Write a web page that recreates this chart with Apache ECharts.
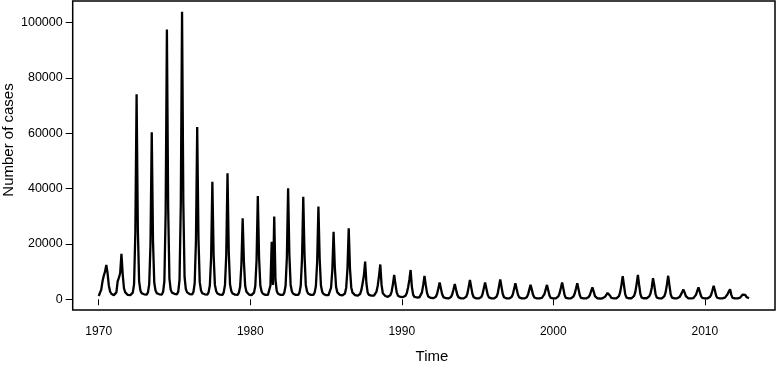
<!DOCTYPE html>
<html>
<head>
<meta charset="utf-8">
<script src="https://cdn.jsdelivr.net/npm/echarts@6/dist/echarts.min.js"></script>
<style>
  html, body { margin: 0; padding: 0; background: #fff; }
  #chart { width: 777px; height: 365px; }
</style>
</head>
<body>
<div id="chart"></div>
<script>
// monthly case counts, Jan 1970 .. Dec 2012 (one row per year)
const START_YEAR = 1970;
const cases = [
  1200, 1800, 3500, 6500, 8500, 10000, 12400, 9500, 5000, 2800, 2000, 1600,
  1500, 1400, 2500, 6500, 7800, 9500, 16400, 9000, 4000, 2500, 1900, 1600,
  1700, 1500, 1600, 2400, 5500, 24000, 74100, 25000, 6500, 3200, 2200, 1900,
  1800, 1600, 1700, 2500, 5500, 20000, 60400, 21000, 6000, 3200, 2200, 1900,
  1800, 1600, 1700, 2700, 6500, 31000, 97500, 33000, 7500, 3500, 2400, 2000,
  2000, 1700, 1800, 2800, 7000, 34000, 104000, 35000, 8000, 3700, 2500, 2100,
  1900, 1700, 1800, 2600, 5800, 21000, 62300, 22000, 6200, 3200, 2200, 1900,
  1800, 1600, 1700, 2500, 5000, 15000, 42500, 16000, 5300, 3000, 2100, 1800,
  1700, 1500, 1600, 2500, 5200, 16000, 45600, 17000, 5400, 3000, 2100, 1800,
  1700, 1500, 1600, 2400, 4600, 12500, 29300, 13500, 4800, 2700, 2000, 1700,
  1600, 1500, 1600, 2400, 4800, 14000, 37300, 15000, 5000, 2800, 2000, 1700,
  1600, 1500, 1600, 2300, 5000, 20800, 5200, 29900, 7000, 3000, 2000, 1700,
  1600, 1500, 1600, 2400, 5000, 15000, 40100, 16000, 5200, 2800, 2000, 1700,
  1600, 1500, 1600, 2400, 5000, 14500, 37100, 16000, 5200, 2800, 2000, 1700,
  1600, 1500, 1600, 2400, 4800, 13500, 33500, 14500, 5000, 2700, 1900, 1600,
  1500, 1400, 1500, 2200, 4200, 10500, 24400, 11500, 4400, 2500, 1800, 1600,
  1500, 1400, 1500, 2100, 4200, 11000, 25700, 11000, 4300, 2400, 1800, 1500,
  1400, 1300, 1400, 1900, 3300, 5800, 8500, 13600, 5800, 2400, 1600, 1400,
  1300, 1200, 1300, 1700, 2800, 5000, 8500, 12600, 5200, 2200, 1500, 1200,
  1000, 900, 1000, 1500, 2800, 5500, 8800, 5500, 2500, 1300, 950, 850,
  850, 800, 900, 1300, 2300, 4300, 7000, 10600, 4600, 1700, 900, 700,
  650, 600, 700, 1100, 2500, 5200, 8500, 5200, 2300, 1000, 600, 500,
  450, 400, 500, 900, 2000, 4000, 6100, 3900, 1800, 800, 450, 400,
  350, 320, 400, 800, 1800, 3600, 5500, 3500, 1600, 700, 400, 350,
  350, 330, 400, 900, 2100, 4500, 7000, 4400, 1900, 750, 400, 350,
  330, 300, 380, 800, 1900, 4000, 6100, 3900, 1700, 700, 400, 330,
  330, 300, 400, 900, 2100, 4600, 7200, 4500, 1900, 750, 400, 330,
  320, 300, 380, 800, 1800, 3800, 5800, 3700, 1700, 700, 380, 320,
  320, 300, 360, 750, 1700, 3500, 5200, 3500, 1600, 650, 360, 320,
  320, 300, 340, 500, 950, 1900, 3600, 5200, 3300, 1400, 500, 330,
  320, 300, 340, 530, 1050, 2200, 4100, 6100, 3800, 1500, 500, 330,
  320, 300, 340, 520, 1000, 2100, 3900, 5800, 3600, 1500, 500, 330,
  300, 280, 320, 460, 800, 1600, 3000, 4300, 2800, 1150, 430, 300,
  300, 280, 300, 380, 560, 900, 1500, 2300, 2700, 1300, 480, 320,
  330, 320, 360, 550, 1150, 2600, 5300, 8400, 5000, 1800, 600, 380,
  370, 340, 380, 570, 1200, 2700, 5500, 8800, 5200, 1900, 600, 390,
  370, 340, 370, 530, 1050, 2100, 4200, 7600, 5000, 1900, 600, 380,
  360, 330, 370, 550, 1150, 2600, 5300, 8500, 5000, 1800, 600, 370,
  340, 320, 350, 480, 800, 1500, 2500, 3600, 2500, 1150, 480, 330,
  320, 300, 330, 460, 800, 1600, 3000, 4300, 2800, 1250, 480, 330,
  320, 300, 330, 450, 800, 1600, 3200, 4900, 3200, 1250, 480, 330,
  320, 300, 320, 400, 600, 1000, 1800, 2800, 3600, 1600, 520, 320,
  300, 280, 300, 400, 600, 1000, 1700, 2400, 1600, 850, 500, 400
];

const xTicks = [1970, 1980, 1990, 2000, 2010];
const yTicks = [0, 20000, 40000, 60000, 80000, 100000];

const seriesData = cases.map((v, i) => [START_YEAR + i / 12, v]);

const FONT = "Liberation Sans, Arial, Helvetica, sans-serif";

const chart = echarts.init(document.getElementById("chart"), null, { renderer: "canvas" });
chart.setOption({
  animation: false,
  backgroundColor: "#fff",
  grid: {
    left: 72.7, top: 1, width: 702.3, height: 309,
    show: true, borderColor: "#000", borderWidth: 1.5, backgroundColor: "transparent"
  },
  xAxis: {
    type: "value",
    min: 1968.283,
    max: 2014.633,
    axisLine: { show: false },
    splitLine: { show: false },
    axisTick: {
      show: true, length: 6, customValues: xTicks,
      lineStyle: { color: "#000", width: 1 }
    },
    axisLabel: {
      customValues: xTicks, margin: 16,
      color: "#000", fontSize: 12, fontFamily: FONT,
      formatter: (v) => String(v)
    }
  },
  yAxis: {
    type: "value",
    min: -3870,
    max: 107850,
    axisLine: { show: false },
    splitLine: { show: false },
    axisTick: {
      show: true, length: 7, customValues: yTicks,
      lineStyle: { color: "#000", width: 1 }
    },
    axisLabel: {
      customValues: yTicks, margin: 10,
      color: "#000", fontSize: 12.5, fontFamily: FONT,
      formatter: (v) => String(v)
    }
  },
  series: [{
    type: "line",
    data: seriesData,
    showSymbol: false,
    symbol: "none",
    lineStyle: { color: "#000", width: 2.3 },
    clip: true
  }],
  graphic: [
    {
      type: "text",
      x: 9, y: 140, rotation: Math.PI / 2,
      style: {
        text: "Number of cases", fill: "#000", font: "15px " + FONT,
        textAlign: "center", textVerticalAlign: "middle"
      }
    },
    {
      type: "text",
      x: 432, y: 357,
      style: {
        text: "Time", fill: "#000", font: "15px " + FONT,
        textAlign: "center", textVerticalAlign: "middle"
      }
    }
  ]
});
</script>
</body>
</html>
